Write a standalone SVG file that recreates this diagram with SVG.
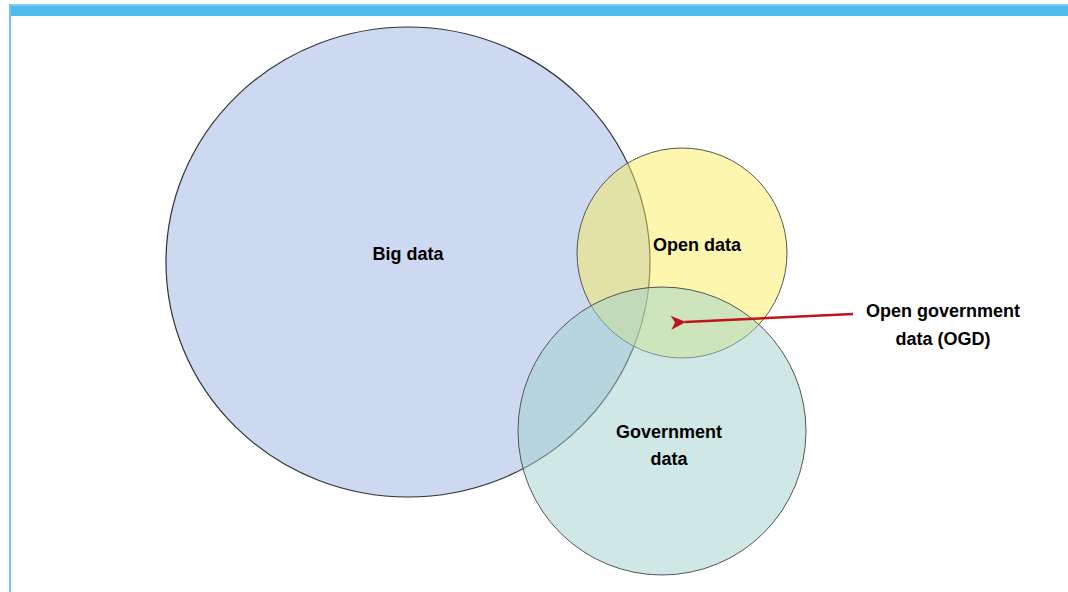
<svg xmlns="http://www.w3.org/2000/svg" width="1068" height="592" viewBox="0 0 1068 592">
<style>
.lbl{font-family:"Liberation Sans",Arial,sans-serif;font-weight:bold;font-size:18px;fill:#000;text-anchor:middle}
</style>
<defs>
<marker id="ah" markerWidth="16" markerHeight="14" refX="1" refY="7" orient="auto" markerUnits="userSpaceOnUse" viewBox="0 0 16 14">
<path d="M0,7 L15,0 L11,7 L15,14 Z" fill="#c0141c"/>
</marker>
</defs>
<rect x="0" y="0" width="1068" height="592" fill="#fff"/>
<g id="frame">
<rect x="9" y="4" width="1059" height="12" fill="#4fbbec"/>
<rect x="9" y="4" width="1059" height="1.5" fill="#8fd3f2"/>
<rect x="9" y="4" width="2" height="588" fill="#6cc6f0"/>
</g>
<g id="big-data">
<ellipse cx="408" cy="262" rx="242" ry="235" fill="#cdd9f0" stroke="#333" stroke-width="1.2"/>
<text class="lbl" x="408" y="260">Big data</text>
</g>
<g id="open-data">
<circle cx="682" cy="253" r="105" fill="#fbec55" fill-opacity="0.48" stroke="#555" stroke-width="1"/>
</g>
<g id="government-data">
<circle cx="662" cy="431" r="144" fill="#9fd1cb" fill-opacity="0.5" stroke="#555" stroke-width="1"/>
<text class="lbl" x="669" y="438">Government</text>
<text class="lbl" x="669" y="465">data</text>
</g>
<g id="open-data-label">
<text class="lbl" x="697" y="251">Open data</text>
</g>
<g id="ogd-label">
<text class="lbl" x="943" y="317">Open government</text>
<text class="lbl" x="943" y="345">data (OGD)</text>
</g>
<g id="connectors">
<line x1="853" y1="314" x2="685" y2="322" stroke="#c0141c" stroke-width="2.5" marker-end="url(#ah)"/>
</g>
</svg>
